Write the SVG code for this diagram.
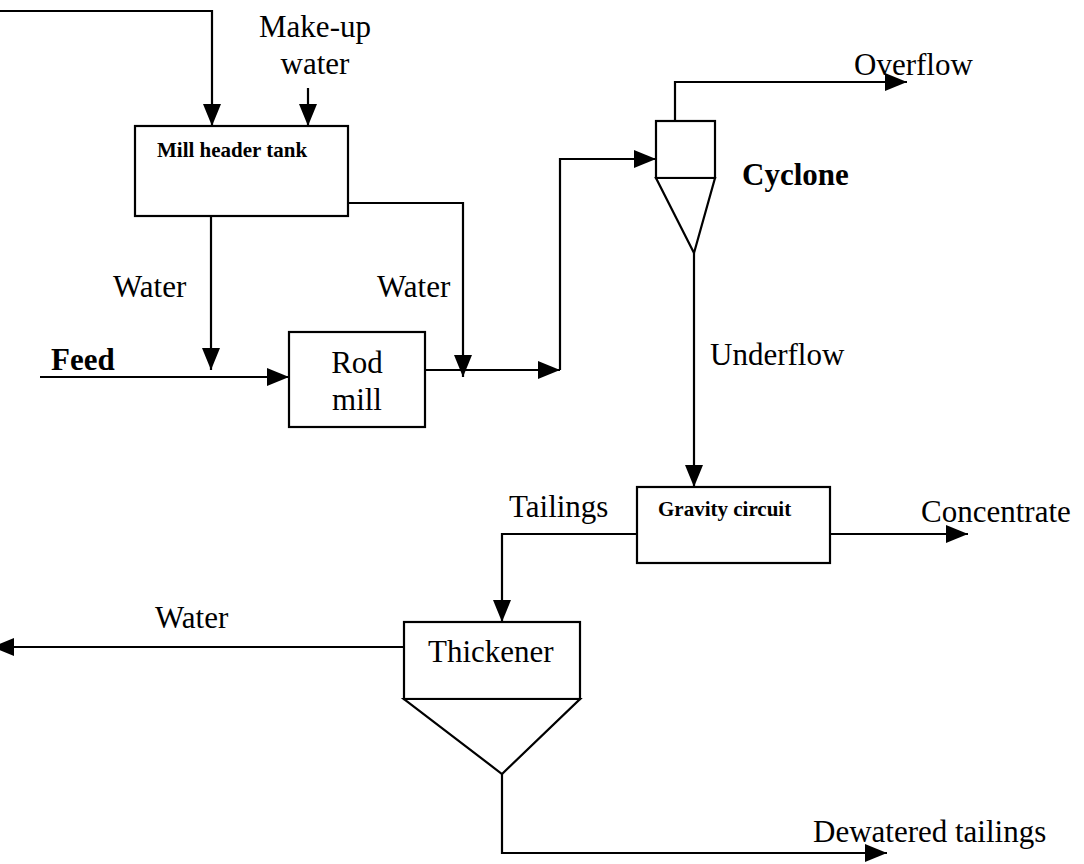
<svg xmlns="http://www.w3.org/2000/svg" width="1084" height="864" viewBox="0 0 1084 864">
<style>
.box{fill:#fff;stroke:#000;stroke-width:2.2}
.ln{fill:none;stroke:#000;stroke-width:2.2}
.t{font-family:"Liberation Serif","Times New Roman",serif;font-size:31px;fill:#000}
.b{font-family:"Liberation Serif","Times New Roman",serif;font-size:31px;font-weight:bold;fill:#000}
.s{font-family:"Liberation Serif","Times New Roman",serif;font-size:21px;font-weight:bold;fill:#000}
</style>
<defs>
<marker id="ah" markerUnits="userSpaceOnUse" markerWidth="22" markerHeight="18" viewBox="0 0 22 18" refX="22" refY="9" orient="auto">
<path d="M0,0 L22,9 L0,18 Z" fill="#000"/>
</marker>
</defs>
<rect width="1084" height="864" fill="#fff"/>
<g id="connectors">
<path class="ln" d="M0,11 H212 V126" marker-end="url(#ah)"/>
<path class="ln" d="M308,88 V126" marker-end="url(#ah)"/>
<path class="ln" d="M211,216 V370" marker-end="url(#ah)"/>
<path class="ln" d="M348,203 H463 V377" marker-end="url(#ah)"/>
<path class="ln" d="M40,377 H289" marker-end="url(#ah)"/>
<path class="ln" d="M425,370 H560" marker-end="url(#ah)"/>
<path class="ln" d="M560,370 V159 H656" marker-end="url(#ah)"/>
<path class="ln" d="M675,121 V82 H907" marker-end="url(#ah)"/>
<path class="ln" d="M694,253 V487" marker-end="url(#ah)"/>
<path class="ln" d="M830,534 H968" marker-end="url(#ah)"/>
<path class="ln" d="M637,534 H502 V622" marker-end="url(#ah)"/>
<path class="ln" d="M404,647 H-8" marker-end="url(#ah)"/>
<path class="ln" d="M502,774 V853 H887" marker-end="url(#ah)"/>
</g>
<g id="labels">
<text class="t" x="315" y="37" text-anchor="middle">Make-up</text>
<text class="t" x="315" y="74" text-anchor="middle">water</text>
<text class="t" x="113" y="297">Water</text>
<text class="t" x="377" y="297">Water</text>
<text class="b" x="51" y="370">Feed</text>
<text class="t" x="854" y="75">Overflow</text>
<text class="t" x="710" y="365">Underflow</text>
<text class="t" x="509" y="517">Tailings</text>
<text class="t" x="921" y="522">Concentrate</text>
<text class="t" x="155" y="628">Water</text>
<text class="t" x="813" y="842">Dewatered tailings</text>
</g>
<g id="mill-header-tank">
<rect class="box" x="135" y="126" width="213" height="90"/>
<text class="s" x="157" y="157">Mill header tank</text>
</g>
<g id="rod-mill">
<rect class="box" x="289" y="332" width="136" height="95"/>
<text class="t" x="357" y="373" text-anchor="middle">Rod</text>
<text class="t" x="357" y="410" text-anchor="middle">mill</text>
</g>
<g id="cyclone">
<rect class="box" x="656" y="121" width="59" height="57"/>
<path class="box" d="M656,178 L715,178 L694,253 Z"/>
<text class="b" x="742" y="185">Cyclone</text>
</g>
<g id="gravity-circuit">
<rect class="box" x="637" y="487" width="193" height="76"/>
<text class="s" x="658" y="516">Gravity circuit</text>
</g>
<g id="thickener">
<rect class="box" x="404" y="622" width="176" height="77"/>
<path class="box" d="M404,699 L580,699 L502,774 Z"/>
<text class="t" x="428" y="662">Thickener</text>
</g>
</svg>
